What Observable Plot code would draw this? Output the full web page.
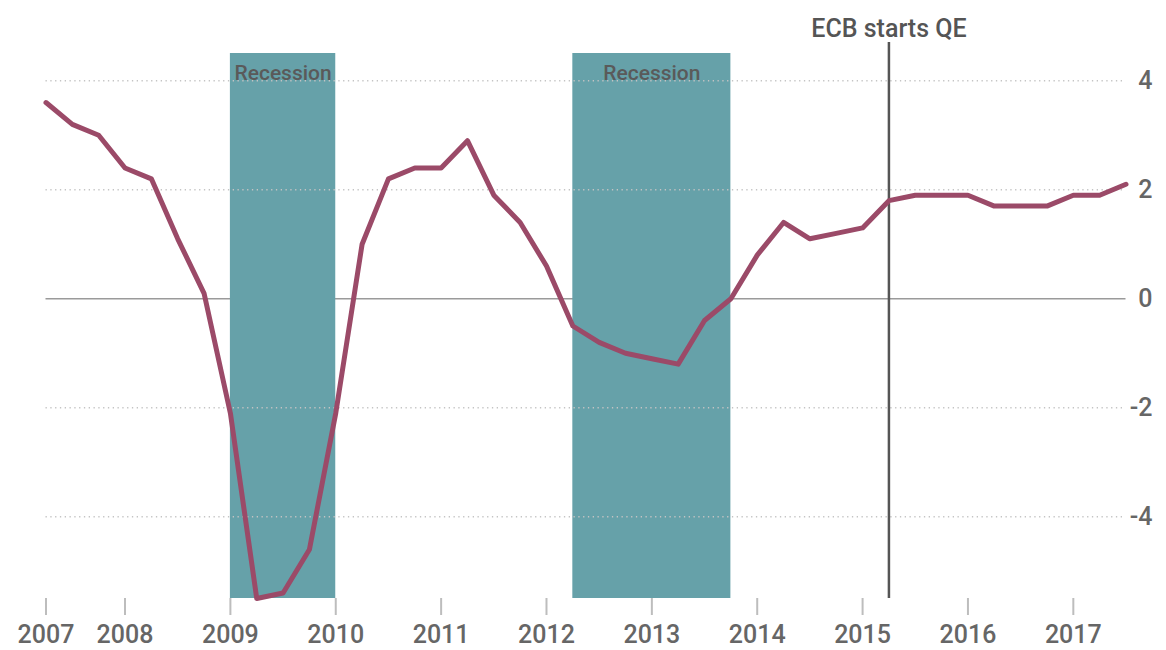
<!DOCTYPE html>
<html><head><meta charset="utf-8">
<script src="https://cdn.jsdelivr.net/npm/d3@7"></script>
<script src="https://cdn.jsdelivr.net/npm/@observablehq/plot@0.6"></script>
<style>body{margin:0;background:#fff;} svg{display:block;}</style>
</head><body><div id="chart"></div>
<script>
// Quarterly dates (decimal years) and GDP growth values (% y/y)
const quarters = [2007.25, 2007.5, 2007.75, 2008.0, 2008.25, 2008.5, 2008.75,
  2009.0, 2009.25, 2009.5, 2009.75, 2010.0, 2010.25, 2010.5, 2010.75,
  2011.0, 2011.25, 2011.5, 2011.75, 2012.0, 2012.25, 2012.5, 2012.75,
  2013.0, 2013.25, 2013.5, 2013.75, 2014.0, 2014.25, 2014.5, 2014.75,
  2015.0, 2015.25, 2015.5, 2015.75, 2016.0, 2016.25, 2016.5, 2016.75,
  2017.0, 2017.25, 2017.5];
const growth = [3.6, 3.2, 3.0, 2.4, 2.2, 1.1, 0.1,
  -2.1, -5.5, -5.4, -4.6, -2.1, 1.0, 2.2, 2.4,
  2.4, 2.9, 1.9, 1.4, 0.6, -0.5, -0.8, -1.0,
  -1.1, -1.2, -0.4, 0.0, 0.8, 1.4, 1.1, 1.2,
  1.3, 1.8, 1.9, 1.9, 1.9, 1.7, 1.7, 1.7,
  1.9, 1.9, 2.1];

const tickYears = [2007.25, 2008, 2009, 2010, 2011, 2012, 2013, 2014, 2015, 2016, 2017];
const tickLabels = ["2007", "2008", "2009", "2010", "2011", "2012", "2013", "2014", "2015", "2016", "2017"];
const yTicks = [4, 2, 0, -2, -4];
const gridValues = [4, 2, -2, -4];
const yMin = -5.5, yMax = 4.5, ruleTop = 4.7;

const recessionStart = [2009.0, 2012.25];
const recessionEnd = [2010.0, 2013.75];
const recessionLabels = ["Recession", "Recession"];

const eventDates = [2015.25];
const eventLabels = ["ECB starts QE"];

const series = quarters.map((q, i) => ({q, v: growth[i]}));
const recessions = recessionStart.map((s, i) => ({start: s, end: recessionEnd[i], label: recessionLabels[i]}));
const events = eventDates.map((d, i) => ({date: d, label: eventLabels[i]}));
const xStart = quarters[0], xEnd = quarters[quarters.length - 1];

const chart = Plot.plot({
  width: 1166, height: 650,
  marginLeft: 45.5, marginRight: 40.5, marginTop: 53, marginBottom: 52,
  x: {domain: [xStart, xEnd]},
  y: {domain: [yMin, yMax]},
  style: {fontFamily: "Roboto, 'Noto Sans', sans-serif", background: "#fff"},
  marks: [
    Plot.ruleY([0], {x1: xStart, x2: xEnd, stroke: "#9a9a9a", strokeWidth: 1.5}),
    Plot.rect(recessions, {x1: "start", x2: "end", y1: yMin, y2: yMax, fill: "#66a1a9"}),
    Plot.ruleY(gridValues, {x1: xStart, x2: xEnd, stroke: "#c4c4c4", strokeWidth: 1.3, strokeDasharray: "1.3,3.5"}),
    Plot.text(recessions, {x: d => (d.start + d.end) / 2, frameAnchor: "top", lineAnchor: "middle", dy: 20,
      text: "label", fill: "#5a5a5a", fontSize: 21, fontWeight: 500}),
    Plot.ruleX(events, {x: "date", y1: ruleTop, y2: yMin, stroke: "#555", strokeWidth: 2.5}),
    Plot.text(events, {x: "date", frameAnchor: "top", lineAnchor: "middle", dy: -25, text: "label",
      fill: "#555", fontSize: 25, fontWeight: 500}),
    Plot.line(series, {x: "q", y: "v", stroke: "#9b4a68", strokeWidth: 5,
      strokeLinejoin: "round", strokeLinecap: "round"}),
    Plot.axisX(tickYears, {tickSize: 17, tickPadding: 10, stroke: "#bdbdbd", strokeWidth: 2,
      tickFormat: d => tickLabels[tickYears.indexOf(d)], fontSize: 25, fill: "#666", fontWeight: 500, label: null}),
    Plot.axisY(yTicks, {anchor: "right", tickSize: 0, tickPadding: 26.5, textAnchor: "end",
      tickFormat: d => String(d), fontSize: 25, fill: "#666", fontWeight: 500, label: null})
  ]
});
document.getElementById("chart").appendChild(chart);
</script>
</body></html>
